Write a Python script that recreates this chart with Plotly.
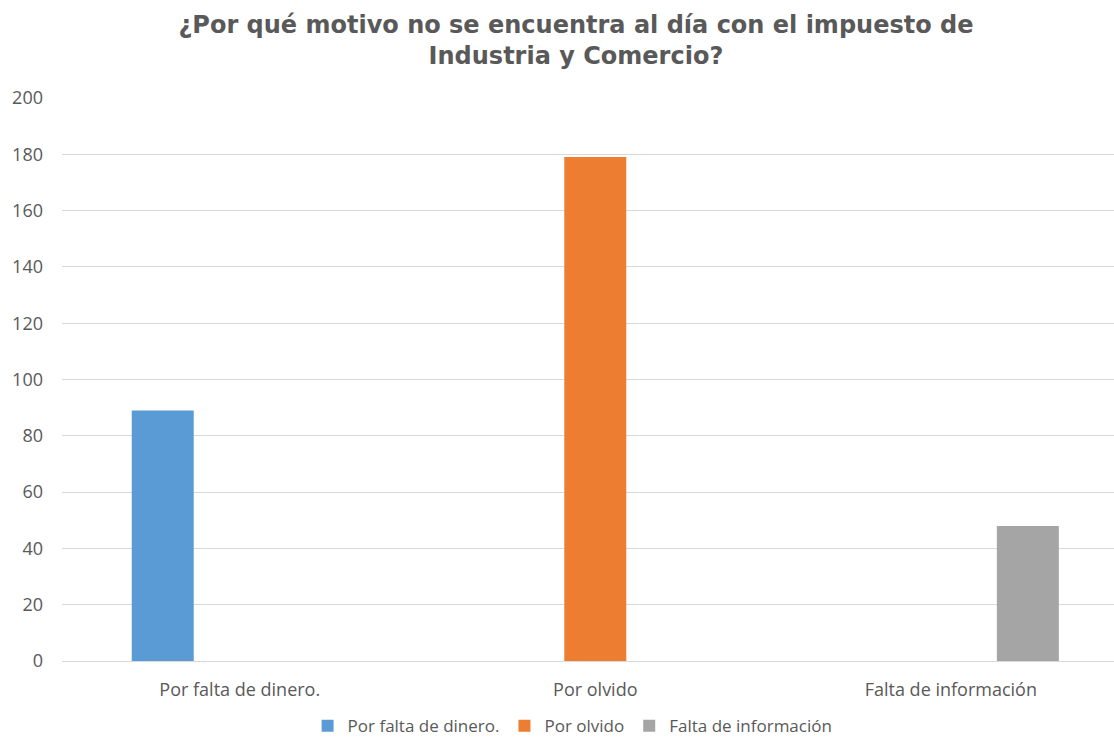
import plotly.graph_objects as go

categories = ["Por falta de dinero.", "Por olvido", "Falta de información"]
series_names = ["Por falta de dinero.", "Por olvido", "Falta de información"]
values = [89, 179, 48]
colors = ["#5B9BD5", "#ED7D31", "#A5A5A5"]
y_ticks = [0, 20, 40, 60, 80, 100, 120, 140, 160, 180, 200]

FONT = "Open Sans"
TXT = "#595959"

fig = go.Figure()
for i, name in enumerate(series_names):
    ys = [values[i] if j == i else None for j in range(len(categories))]
    fig.add_trace(go.Bar(x=categories, y=ys, name=name, marker_color=colors[i],
                         marker_line_width=0))

fig.update_layout(
    width=1114, height=738,
    margin=dict(l=62, r=0, t=98, b=77, autoexpand=False),
    paper_bgcolor="white", plot_bgcolor="white",
    barmode="group", bargap=0.35, bargroupgap=0.195,
    title=dict(text="<b>¿Por qué motivo no se encuentra al día con el impuesto de<br>Industria y Comercio?</b>",
               x=0.517, xref="container", xanchor="center",
               y=0.955, yref="container", yanchor="top",
               font=dict(family="DejaVu Sans", size=24, color=TXT)),
    font=dict(family=FONT, size=18, color=TXT),
    legend=dict(orientation="h", xref="container", yref="paper",
                x=0.514, xanchor="center", y=-0.116, yanchor="middle",
                font=dict(family=FONT, size=17, color=TXT),
                itemwidth=30, traceorder="normal", tracegroupgap=0),
    showlegend=True,
)
fig.update_xaxes(type="category", range=[-0.5, 2.459], showgrid=False,
                 showline=False, ticks="", ticklabelstandoff=16,
                 tickfont=dict(family=FONT, size=18, color=TXT))
fig.update_yaxes(range=[0, 200], tickvals=y_ticks, showgrid=True,
                 gridcolor="#D9D9D9", gridwidth=1, zeroline=True,
                 zerolinecolor="#D9D9D9", zerolinewidth=1, showline=False,
                 ticks="", ticklabelstandoff=18,
                 tickfont=dict(family=FONT, size=18, color=TXT))

fig.write_html("out.html", config={"displayModeBar": False},
               post_script="document.body.style.margin='0';")
